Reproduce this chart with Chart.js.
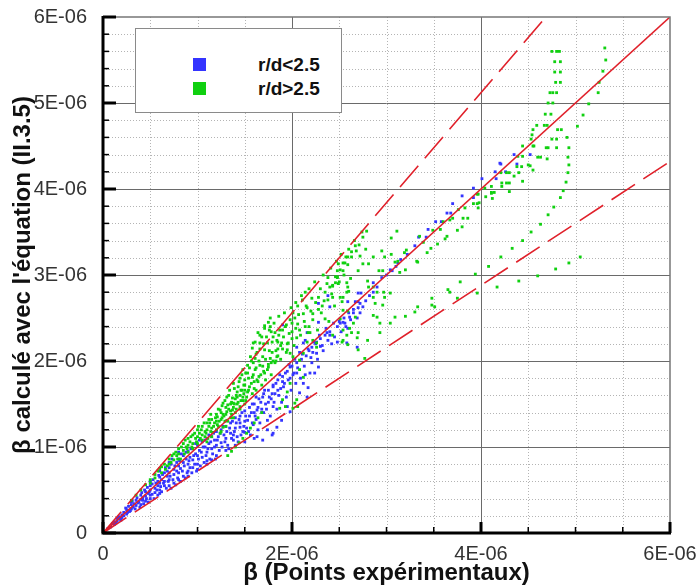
<!DOCTYPE html>
<html>
<head>
<meta charset="utf-8">
<script src="https://cdn.jsdelivr.net/npm/chart.js@4/dist/chart.umd.min.js"></script>
<style>
    body { margin: 0; background: #fff; }
    #wrap { position: relative; width: 697px; height: 587px; }
    #legend {
        position: absolute; left: 135px; top: 28px; width: 205px; height: 83px;
        border: 1px solid #8a8a8a; background: #fff;
        font: bold 19px "Liberation Sans", Arial, sans-serif; color: #111;
    }
    #legend .row { position: absolute; left: 0; height: 20px; line-height: 20px; }
    #legend .sw { position: absolute; left: 57px; top: 3px; width: 13px; height: 13px; }
    #legend .txt { position: absolute; left: 122px; top: 0; white-space: nowrap; }
</style>
</head>
<body>
<div id="wrap">
    <canvas id="betaChart" width="697" height="587"></canvas>
    <div id="legend"></div>
</div>
<script>
// values in units of 1E-06
const xTicks = [0, 2, 4, 6];
const xTickLabels = ["0", "2E-06", "4E-06", "6E-06"];
const yTicks = [0, 1, 2, 3, 4, 5, 6];
const yTickLabels = ["0", "1E-06", "2E-06", "3E-06", "4E-06", "5E-06", "6E-06"];

const seriesNames = ["r/d<2.5", "r/d>2.5"];

// y = slope * x : solid 1:1 line, dashed bounds
const refSlopes = [1, 1.28, 0.72];

const bluePoints = [
    [0.05,0.05],[0.08,0.07],[0.10,0.11],[0.12,0.10],[0.15,0.14],[0.15,0.17],[0.18,0.16],[0.20,0.21],[0.20,0.18],[0.22,0.24],
    [0.25,0.22],[0.25,0.27],[0.28,0.25],[0.30,0.33],[0.30,0.28],[0.30,0.36],[0.32,0.30],[0.35,0.38],[0.35,0.32],[0.38,0.36],
    [0.40,0.44],[0.40,0.39],[0.40,0.33],[0.42,0.41],[0.45,0.48],[0.45,0.43],[0.45,0.37],[0.48,0.46],[0.50,0.55],[0.50,0.50],
    [0.50,0.44],[0.50,0.40],[0.50,0.60],[0.52,0.57],[0.55,0.52],[0.55,0.47],[0.58,0.60],[0.58,0.55],[0.60,0.65],[0.60,0.58],
    [0.60,0.50],[0.60,0.46],[0.60,0.72],[0.62,0.62],[0.65,0.70],[0.65,0.60],[0.65,0.55],[0.68,0.66],[0.70,0.76],[0.70,0.70],
    [0.70,0.62],[0.70,0.55],[0.70,0.82],[0.72,0.80],[0.75,0.74],[0.75,0.68],[0.75,0.58],[0.78,0.82],[0.80,0.86],[0.80,0.78],
    [0.80,0.70],[0.80,0.62],[0.80,0.94],[0.82,0.75],[0.85,0.90],[0.85,0.82],[0.85,0.66],[0.88,0.86],[0.90,0.95],[0.90,0.80],
    [0.90,0.72],[0.90,0.66],[0.92,0.88],[0.95,0.98],[0.95,0.85],[0.95,0.76],[0.98,0.92],[1.00,1.02],[1.00,0.90],[1.00,0.80],
    [1.00,0.74],[1.02,0.96],[1.05,1.06],[1.05,0.88],[1.08,1.00],[1.10,1.10],[1.10,0.94],[1.10,0.84],[1.10,0.80],[1.12,1.04],
    [1.15,1.12],[1.15,0.98],[1.15,0.85],[1.18,1.08],[1.20,1.18],[1.20,1.02],[1.20,0.90],[1.22,1.12],[1.25,1.20],[1.25,1.05],
    [1.28,1.14],[1.30,1.24],[1.30,1.10],[1.30,0.96],[1.32,1.02],[1.35,1.28],[1.35,1.16],[1.38,1.08],[1.38,1.14],[1.40,1.34],
    [1.40,1.22],[1.40,1.02],[1.42,1.12],[1.45,1.36],[1.45,1.28],[1.45,1.23],[1.48,1.18],[1.50,1.42],[1.50,1.30],[1.50,1.17],
    [1.50,1.06],[1.52,1.22],[1.53,1.31],[1.55,1.46],[1.55,1.36],[1.56,1.14],[1.58,1.28],[1.59,1.26],[1.60,1.50],[1.60,1.40],
    [1.60,1.10],[1.62,1.32],[1.63,1.43],[1.63,1.12],[1.64,1.20],[1.65,1.56],[1.68,1.44],[1.68,1.40],[1.69,1.58],[1.69,1.08],
    [1.70,1.62],[1.72,1.50],[1.74,1.31],[1.74,1.20],[1.75,1.66],[1.75,1.52],[1.78,1.56],[1.79,1.14],[1.80,1.72],[1.80,1.70],
    [1.80,1.47],[1.80,1.16],[1.82,1.62],[1.84,1.23],[1.85,1.78],[1.85,1.66],[1.88,1.68],[1.89,1.31],[1.90,1.82],[1.90,1.76],
    [1.90,2.42],[1.92,1.74],[1.95,1.88],[1.95,1.47],[1.98,1.80],[1.98,1.93],[1.98,1.41],[2.00,1.94],[2.02,1.86],[2.05,1.98],
    [2.05,1.86],[2.05,2.16],[2.08,1.63],[2.08,2.10],[2.10,2.02],[2.12,1.74],[2.12,2.21],[2.14,1.84],[2.14,2.24],[2.15,2.06],
    [2.16,1.58],[2.16,2.33],[2.17,1.69],[2.18,2.12],[2.21,1.98],[2.21,2.16],[2.22,2.10],[2.24,1.86],[2.25,2.20],[2.26,2.09],
    [2.26,2.22],[2.28,1.93],[2.28,2.45],[2.28,2.67],[2.30,2.26],[2.30,2.17],[2.32,2.18],[2.35,2.30],[2.37,2.33],[2.38,2.24],
    [2.38,2.76],[2.40,2.34],[2.40,2.30],[2.40,2.63],[2.45,2.28],[2.48,2.40],[2.48,2.22],[2.50,2.46],[2.51,2.44],[2.54,2.45],
    [2.55,2.50],[2.56,2.44],[2.58,2.21],[2.59,2.38],[2.59,2.69],[2.60,2.56],[2.61,2.51],[2.65,2.60],[2.65,2.56],[2.67,2.69],
    [2.69,2.50],[2.69,2.16],[2.70,2.69],[2.70,2.62],[2.70,2.79],[2.72,2.67],[2.72,2.56],[2.73,2.79],[2.75,2.63],[2.78,2.70],
    [2.82,2.76],[2.86,2.91],[2.86,2.80],[2.90,2.86],[2.95,2.97],[3.00,3.00],[3.04,3.06],[3.06,3.05],[3.10,3.10],[3.12,3.14],
    [3.15,3.18],[3.22,3.24],[3.30,3.34],[3.34,3.44],[3.42,3.44],[3.44,3.53],[3.52,3.62],[3.58,3.62],[3.64,3.72],[3.68,3.72],
    [3.70,3.83],[3.80,3.92],[3.92,3.90],[3.92,4.01],[4.01,4.12],[4.15,4.20],[4.16,4.12],[4.20,4.30],[4.21,4.29],[4.26,4.20],
    [4.35,4.40],[4.38,4.29],[4.52,4.40],
    [0.12,0.13],[0.14,0.12],[0.17,0.19],[0.19,0.15],[0.22,0.20],[0.24,0.29],[0.26,0.24],[0.27,0.31],[0.29,0.26],[0.31,0.37],
    [0.33,0.34],[0.34,0.28],[0.36,0.41],[0.37,0.35],[0.39,0.30],[0.41,0.47],[0.42,0.38],[0.43,0.34],[0.44,0.50],[0.46,0.40],
    [0.47,0.53],[0.48,0.36],[0.49,0.48],[0.52,0.45],[0.53,0.62],[0.54,0.40],[0.56,0.58],[0.57,0.50],[0.58,0.44],[0.59,0.67],
    [0.61,0.54],[0.62,0.48],[0.63,0.68],[0.64,0.58],[0.66,0.76],[0.67,0.52],[0.68,0.72],[0.69,0.60],[0.71,0.66],[0.72,0.52],
    [0.73,0.86],[0.74,0.62],[0.76,0.78],[0.77,0.56],[0.78,0.72],[0.79,0.64],[0.81,0.84],[0.82,0.60],[0.83,0.92],[0.84,0.72],
    [0.86,0.78],[0.87,0.64],[0.88,0.94],[0.89,0.70],[0.91,0.84],[0.92,0.76],[0.93,0.98],[0.94,0.70],[0.96,0.90],[0.97,0.80],
    [0.98,1.04],[0.99,0.72],[1.01,0.86],[1.02,1.08],[1.03,0.78],[1.04,0.94],[1.06,1.00],[1.07,0.82],[1.08,1.08],[1.09,0.90],
    [1.11,0.98],[1.12,1.14],[1.13,0.86],[1.14,1.06],[1.16,0.92],[1.17,1.16],[1.18,1.00],[1.19,0.86],[1.21,1.08],[1.23,0.96],
    [1.24,1.16],[1.26,1.00],[1.27,1.24],[1.29,1.06],[1.31,1.18],[1.33,0.98],[1.34,1.22],[1.36,1.10],[1.37,1.30],[1.39,1.18],
    [1.41,1.28],[1.43,1.06],[1.44,1.32],[1.46,1.14],[1.47,1.40],[1.49,1.24],[1.51,1.36],[1.54,1.18],[1.57,1.40],[1.58,1.50],
    [1.61,1.36],[1.62,1.58],[1.64,1.46],[1.66,1.28],[1.67,1.52],[1.70,1.40],[1.71,1.66],[1.73,1.44],[1.76,1.58],[1.77,1.36],
    [1.79,1.62],[1.81,1.52],[1.83,1.74],[1.84,1.44],[1.86,1.60],[1.87,1.84],[1.89,1.52],[1.91,1.70],[1.93,1.86],[1.94,1.58],
    [1.96,1.78],[1.97,1.96],[1.99,1.66],[2.01,1.84],[2.03,2.02],[2.04,1.74],[2.06,1.92],[2.09,1.80],[2.11,2.08],[2.13,1.94],
    [2.17,2.14],[2.19,1.86],[2.20,2.04],[2.23,2.22],[2.27,2.02],[2.29,2.30],[2.33,2.12],[2.36,2.38],[2.42,2.20],[2.44,2.44],
    [2.52,2.34],[2.57,2.40],[2.62,2.48]
];

const greenPoints = [
    [0.30,0.38],[0.35,0.44],[0.40,0.50],[0.45,0.56],[0.50,0.62],[0.55,0.68],[0.60,0.75],[0.62,0.70],[0.65,0.80],[0.68,0.78],
    [0.70,0.86],[0.72,0.82],[0.75,0.92],[0.75,0.85],[0.78,0.90],[0.80,0.98],[0.80,0.92],[0.82,0.86],[0.85,1.04],[0.85,0.96],
    [0.88,1.00],[0.90,1.10],[0.90,1.02],[0.90,0.94],[0.92,1.06],[0.95,1.14],[0.95,1.04],[0.95,0.98],[0.98,1.10],[1.00,1.20],
    [1.00,1.12],[1.00,1.04],[1.02,1.16],[1.05,1.24],[1.05,1.08],[1.05,1.14],[1.08,1.18],[1.08,1.12],[1.10,1.28],[1.10,1.20],
    [1.10,1.06],[1.11,1.10],[1.12,1.24],[1.13,1.28],[1.15,1.32],[1.15,1.22],[1.15,1.12],[1.16,1.17],[1.18,1.28],[1.20,1.38],
    [1.20,1.30],[1.20,1.20],[1.21,1.35],[1.21,1.26],[1.22,1.24],[1.24,1.43],[1.24,1.16],[1.25,1.40],[1.25,1.32],[1.25,1.18],
    [1.26,1.34],[1.27,1.51],[1.27,1.23],[1.28,1.36],[1.30,1.46],[1.30,1.38],[1.30,1.24],[1.31,1.58],[1.31,1.41],[1.31,1.31],
    [1.32,1.30],[1.32,1.49],[1.32,0.90],[1.34,1.66],[1.35,1.50],[1.35,1.42],[1.35,1.34],[1.36,0.95],[1.37,1.57],[1.37,1.43],
    [1.38,1.46],[1.38,1.74],[1.38,1.51],[1.38,1.34],[1.40,1.56],[1.40,1.40],[1.40,1.00],[1.42,1.50],[1.42,1.64],[1.42,1.58],
    [1.43,1.70],[1.44,1.05],[1.45,1.60],[1.45,1.44],[1.45,1.80],[1.45,1.47],[1.47,1.66],[1.48,1.54],[1.48,1.90],[1.48,1.58],
    [1.48,1.10],[1.50,1.66],[1.50,1.50],[1.50,1.72],[1.50,1.78],[1.52,1.58],[1.52,1.16],[1.53,1.95],[1.53,1.86],[1.53,1.64],
    [1.55,1.70],[1.56,2.05],[1.56,1.22],[1.58,1.62],[1.58,2.15],[1.58,1.81],[1.59,2.21],[1.59,1.98],[1.60,1.76],[1.60,1.28],
    [1.61,2.22],[1.61,2.03],[1.61,1.90],[1.62,1.66],[1.63,2.10],[1.63,1.78],[1.64,2.33],[1.64,1.34],[1.65,1.82],[1.66,2.30],
    [1.66,2.21],[1.66,1.95],[1.68,1.72],[1.68,2.28],[1.68,1.40],[1.69,2.05],[1.70,1.88],[1.71,2.41],[1.71,2.38],[1.71,2.13],
    [1.71,1.86],[1.72,1.78],[1.74,2.21],[1.75,1.96],[1.75,2.45],[1.75,1.93],[1.77,2.50],[1.77,2.40],[1.77,2.03],[1.78,1.84],
    [1.78,2.34],[1.79,2.22],[1.79,2.10],[1.80,2.00],[1.82,2.33],[1.82,1.98],[1.84,2.24],[1.84,2.05],[1.85,2.06],[1.85,2.22],
    [1.85,2.14],[1.87,2.36],[1.87,1.45],[1.89,2.21],[1.90,2.14],[1.90,2.36],[1.90,1.55],[1.93,1.47],[1.94,2.42],[1.95,2.20],
    [1.95,2.13],[1.95,1.64],[1.96,2.21],[1.98,2.48],[1.98,2.09],[1.98,1.74],[2.00,2.26],[2.00,2.34],[2.01,2.56],[2.01,2.05],
    [2.01,1.45],[2.03,2.50],[2.03,1.51],[2.05,2.27],[2.05,1.55],[2.06,2.64],[2.06,2.43],[2.06,1.47],[2.08,2.36],[2.08,1.90],
    [2.08,2.01],[2.11,2.71],[2.12,2.55],[2.12,1.81],[2.12,2.09],[2.14,2.80],[2.14,2.40],[2.16,2.62],[2.16,2.22],[2.17,2.33],
    [2.19,2.33],[2.21,2.73],[2.22,2.55],[2.22,2.48],[2.22,2.24],[2.26,2.21],[2.26,2.16],[2.28,2.74],[2.28,2.60],[2.32,2.64],
    [2.35,2.80],[2.35,2.49],[2.38,2.97],[2.38,2.71],[2.40,2.86],[2.43,2.88],[2.43,2.74],[2.43,2.87],[2.43,2.30],[2.46,2.98],
    [2.46,2.91],[2.48,2.97],[2.48,2.98],[2.48,3.05],[2.49,2.90],[2.49,3.13],[2.51,3.06],[2.51,2.74],[2.51,2.49],[2.53,2.69],
    [2.53,2.22],[2.54,3.14],[2.54,3.05],[2.54,2.74],[2.54,2.59],[2.54,2.36],[2.54,2.24],[2.56,3.14],[2.57,3.21],[2.58,2.91],
    [2.58,2.80],[2.58,2.30],[2.59,3.21],[2.59,3.12],[2.59,2.86],[2.59,2.58],[2.59,2.19],[2.60,2.81],[2.61,2.38],[2.63,3.27],
    [2.63,3.21],[2.63,2.33],[2.65,2.44],[2.67,3.34],[2.67,2.51],[2.68,3.28],[2.69,2.27],[2.70,3.05],[2.70,2.33],[2.70,2.13],
    [2.71,3.35],[2.75,3.44],[2.75,3.13],[2.77,2.03],[2.79,3.51],[2.80,2.93],[2.80,2.24],[2.81,3.13],[2.81,2.86],[2.86,3.21],
    [2.86,2.86],[2.86,2.74],[2.86,2.53],[2.88,2.67],[2.90,2.80],[2.90,2.51],[2.92,3.05],[2.93,2.44],[2.93,2.33],[2.95,3.28],
    [2.96,3.05],[2.96,2.65],[2.97,2.80],[2.98,3.21],[2.98,2.74],[3.04,2.79],[3.04,2.44],[3.05,3.43],[3.05,3.24],[3.09,3.15],
    [3.09,2.51],[3.11,3.51],[3.12,3.16],[3.14,3.03],[3.19,3.26],[3.20,3.06],[3.20,2.52],[3.21,3.29],[3.30,2.57],[3.32,3.16],
    [3.33,3.15],[3.33,2.63],[3.35,3.45],[3.39,3.38],[3.43,3.26],[3.47,3.31],[3.48,2.73],[3.48,2.65],[3.49,3.52],[3.51,2.63],
    [3.54,3.36],[3.57,3.53],[3.60,3.62],[3.62,3.42],[3.64,3.45],[3.65,2.83],[3.67,3.64],[3.67,2.80],[3.70,3.66],[3.75,3.52],
    [3.75,2.73],[3.76,3.76],[3.78,2.92],[3.80,3.56],[3.81,3.66],[3.83,3.78],[3.86,3.66],[3.92,3.83],[3.94,3.01],[3.96,3.94],
    [3.96,3.83],[3.96,2.79],[3.97,3.94],[3.97,3.78],[3.98,3.84],[4.04,4.01],[4.05,3.91],[4.08,3.10],[4.11,4.03],[4.11,3.96],
    [4.11,3.95],[4.12,3.89],[4.14,3.96],[4.17,2.86],[4.21,4.19],[4.21,3.21],[4.22,4.07],[4.22,4.03],[4.27,4.19],[4.27,4.07],
    [4.30,4.19],[4.30,4.07],[4.30,3.97],[4.33,3.31],[4.35,4.15],[4.38,4.26],[4.39,4.38],[4.40,4.19],[4.40,2.93],[4.43,4.26],
    [4.44,4.50],[4.44,4.38],[4.44,4.09],[4.44,3.40],[4.50,4.28],[4.52,4.27],[4.53,4.58],[4.53,3.50],[4.54,4.63],[4.55,4.69],
    [4.55,4.50],[4.55,4.22],[4.56,4.50],[4.59,4.74],[4.60,4.37],[4.60,2.99],[4.63,4.37],[4.63,3.59],[4.67,4.74],[4.68,4.87],
    [4.69,4.48],[4.70,4.74],[4.70,4.35],[4.71,5.00],[4.71,4.48],[4.71,3.70],[4.73,5.12],[4.74,4.87],[4.75,5.60],[4.75,4.58],
    [4.76,5.12],[4.76,5.00],[4.77,3.79],[4.78,5.48],[4.78,5.36],[4.79,5.24],[4.79,3.07],[4.80,5.60],[4.80,5.12],[4.80,4.58],
    [4.80,4.48],[4.81,4.69],[4.83,5.60],[4.84,5.48],[4.84,5.36],[4.84,5.24],[4.84,3.90],[4.85,4.69],[4.87,3.98],[4.90,4.08],
    [4.91,4.60],[4.92,4.37],[4.92,4.19],[4.93,4.48],[4.93,4.28],[4.93,3.14],[5.02,4.73],[5.05,3.21],[5.08,4.86],[5.14,4.99],
    [5.24,5.12],[5.25,5.24],[5.29,5.37],[5.31,5.64],[5.32,5.50],
    [0.50,0.58],[0.55,0.64],[0.58,0.72],[0.62,0.77],[0.66,0.74],[0.70,0.80],[0.73,0.90],[0.77,0.94],[0.79,0.86],[0.83,1.00],
    [0.86,0.92],[0.87,1.08],[0.89,0.98],[0.93,1.12],[0.94,1.00],[0.97,1.16],[0.99,1.06],[1.01,1.24],[1.03,1.10],[1.04,1.20],
    [1.07,1.28],[1.09,1.16],[1.12,1.32],[1.14,1.18],[1.14,1.38],[1.17,1.24],[1.19,1.34],[1.22,1.44],[1.23,1.30],[1.26,1.48],
    [1.27,1.38],[1.29,1.54],[1.29,1.30],[1.33,1.44],[1.33,1.60],[1.36,1.52],[1.36,1.38],[1.39,1.68],[1.39,1.50],[1.41,1.44],
    [1.41,1.60],[1.43,1.52],[1.44,1.76],[1.46,1.54],[1.46,1.66],[1.47,1.84],[1.49,1.62],[1.49,1.72],[1.51,1.86],[1.51,1.54],
    [1.54,1.80],[1.54,1.66],[1.55,1.92],[1.57,1.74],[1.57,2.00],[1.59,1.84],[1.60,1.68],[1.62,1.92],[1.62,2.08],[1.64,1.76],
    [1.65,2.00],[1.66,2.14],[1.67,1.84],[1.69,1.94],[1.70,2.20],[1.72,2.02],[1.73,2.28],[1.74,1.90],[1.76,2.12],[1.76,2.36],
    [1.78,1.98],[1.80,2.28],[1.81,2.44],[1.83,2.12],[1.83,2.00],[1.86,2.30],[1.86,2.52],[1.88,2.18],[1.88,2.02],[1.91,2.28],
    [1.92,2.56],[1.93,2.40],[1.94,2.10],[1.97,2.32],[1.99,2.62],[2.00,2.44],[2.02,2.18],[2.04,2.38],[2.04,2.68],[2.07,2.54],
    [2.09,2.30],[2.10,2.76],[2.13,2.46],[2.15,2.64],[2.18,2.84],[2.18,2.40],[2.20,2.58],[2.24,2.92],[2.25,2.68],[2.27,2.36],
    [2.30,2.84],[2.31,2.56],[2.33,3.00],[2.34,2.70],[2.37,2.90],[2.39,2.46],[2.41,3.08],[2.42,2.78],[2.45,2.64],[2.47,3.16],
    [2.50,2.92],[2.52,3.24],[2.55,3.00],[2.60,3.30],[2.62,2.96],[2.66,3.40],[2.72,3.22],[2.74,3.50],[2.78,3.30]
];

const FONT = '"Liberation Sans", Arial, Helvetica, sans-serif';
const BLUE = "#3434ff";
const GREEN = "#10d010";
const RED = "#e0202a";

/*
|--------------------------------------------------------------------------
| Grid, frame and inward ticks
|--------------------------------------------------------------------------
*/

const frame = {
    id: "frame",

    beforeDatasetsDraw(chart) {
        const { ctx, chartArea: a, scales } = chart;
        const x = scales.x;
        const y = scales.y;

        const vline = (v) => {
            const px = Math.round(x.getPixelForValue(v)) + 0.5;
            ctx.beginPath();
            ctx.moveTo(px, a.top);
            ctx.lineTo(px, a.bottom);
            ctx.stroke();
        };
        const hline = (v) => {
            const py = Math.round(y.getPixelForValue(v)) + 0.5;
            ctx.beginPath();
            ctx.moveTo(a.left, py);
            ctx.lineTo(a.right, py);
            ctx.stroke();
        };

        ctx.save();
        ctx.lineWidth = 1;
        ctx.strokeStyle = "#b4b4b4";
        ctx.setLineDash([1, 2]);
        for (let i = 1; i < 12; i++) if (i % 4) vline(i * 0.5);
        for (let i = 1; i < 30; i++) if (i % 5) hline(i * 0.2);

        ctx.setLineDash([]);
        ctx.strokeStyle = "#6a6a6a";
        xTicks.slice(1, -1).forEach(vline);
        yTicks.slice(1, -1).forEach(hline);
        ctx.restore();
    },

    afterDatasetsDraw(chart) {
        const { ctx, chartArea: a, scales } = chart;
        const x = scales.x;
        const y = scales.y;

        ctx.save();
        ctx.strokeStyle = "#777";
        ctx.lineWidth = 1.5;
        ctx.beginPath();
        ctx.moveTo(a.left, a.top);
        ctx.lineTo(a.right, a.top);
        ctx.lineTo(a.right, a.bottom);
        ctx.stroke();

        ctx.strokeStyle = "#000";

        // minor ticks
        ctx.lineWidth = 1.5;
        for (let i = 1; i < 12; i++) {
            if (!(i % 4)) continue;
            const px = x.getPixelForValue(i * 0.5);
            ctx.beginPath();
            ctx.moveTo(px, a.bottom);
            ctx.lineTo(px, a.bottom - 6);
            ctx.stroke();
        }
        for (let i = 1; i < 30; i++) {
            if (!(i % 5)) continue;
            const py = y.getPixelForValue(i * 0.2);
            ctx.beginPath();
            ctx.moveTo(a.left, py);
            ctx.lineTo(a.left + 6, py);
            ctx.stroke();
        }

        // major ticks
        ctx.lineWidth = 3;
        xTicks.forEach((v) => {
            const px = x.getPixelForValue(v);
            ctx.beginPath();
            ctx.moveTo(px, a.bottom);
            ctx.lineTo(px, a.bottom - 11);
            ctx.stroke();
        });
        yTicks.forEach((v) => {
            const py = y.getPixelForValue(v);
            ctx.beginPath();
            ctx.moveTo(a.left, py);
            ctx.lineTo(a.left + 13, py);
            ctx.stroke();
        });

        // axis lines
        ctx.beginPath();
        ctx.moveTo(a.left, a.top - 1);
        ctx.lineTo(a.left, a.bottom);
        ctx.lineTo(a.right + 1, a.bottom);
        ctx.stroke();
        ctx.restore();
    },
};

/*
|--------------------------------------------------------------------------
| Datasets
|--------------------------------------------------------------------------
*/

const toXY = (p) => ({ x: p[0], y: p[1] });

const lineSets = refSlopes.map((s, i) => ({
    label: "ref" + i,
    data: [{ x: 0, y: 0 }, { x: 6, y: 6 * s }],
    showLine: true,
    borderColor: RED,
    borderWidth: 1.6,
    borderDash: i === 0 ? [] : [28, 10],
    pointRadius: 0,
}));

const pointSets = [
    {
        label: seriesNames[1],
        data: greenPoints.map(toXY),
        backgroundColor: GREEN,
        borderWidth: 0,
        pointStyle: "rect",
        pointRadius: 2,
    },
    {
        label: seriesNames[0],
        data: bluePoints.map(toXY),
        backgroundColor: BLUE,
        borderWidth: 0,
        pointStyle: "rect",
        pointRadius: 2,
    },
];

const chart = new Chart(document.getElementById("betaChart"), {
    type: "scatter",

    data: {
        datasets: [...lineSets, ...pointSets],
    },

    options: {
        responsive: false,
        animation: false,
        events: [],

        layout: {
            padding: { left: 9, top: 17, right: 27, bottom: 0 },
        },

        plugins: {
            legend: { display: false },
            tooltip: { enabled: false },
        },

        scales: {
            x: {
                min: 0,
                max: 6,
                grid: { display: false },
                border: { display: false },
                ticks: {
                    stepSize: 2,
                    padding: 1,
                    maxRotation: 0,
                    color: "#333",
                    font: { family: FONT, size: 20 },
                    callback: (v) => xTickLabels[xTicks.indexOf(v)],
                },
                title: {
                    display: true,
                    text: "β (Points expérimentaux)",
                    color: "#111",
                    font: { family: FONT, size: 24, weight: "bold" },
                    padding: { top: 0, bottom: -1 },
                },
                afterFit: (s) => {
                    s.height = 54;
                    s.paddingLeft = 0;
                    s.paddingRight = 0;
                },
            },

            y: {
                min: 0,
                max: 6,
                grid: { display: false },
                border: { display: false },
                ticks: {
                    stepSize: 1,
                    padding: 8,
                    color: "#333",
                    font: { family: FONT, size: 20 },
                    callback: (v) => yTickLabels[yTicks.indexOf(v)],
                },
                title: {
                    display: true,
                    text: "β calculé avec l'équation (II.3.5)",
                    color: "#111",
                    font: { family: FONT, size: 24, weight: "bold" },
                    padding: { top: 0, bottom: 0 },
                },
                afterFit: (s) => {
                    s.width = 94;
                    s.paddingTop = 0;
                    s.paddingBottom = 0;
                },
            },
        },
    },

    plugins: [frame],
});

/*
|--------------------------------------------------------------------------
| Legend box
|--------------------------------------------------------------------------
*/

const legend = document.getElementById("legend");
[[seriesNames[0], BLUE], [seriesNames[1], GREEN]].forEach(([name, color], i) => {
    const row = document.createElement("div");
    row.className = "row";
    row.style.top = 26 + i * 24 + "px";

    const sw = document.createElement("span");
    sw.className = "sw";
    sw.style.background = color;

    const txt = document.createElement("span");
    txt.className = "txt";
    txt.textContent = name;

    row.appendChild(sw);
    row.appendChild(txt);
    legend.appendChild(row);
});
</script>
</body>
</html>
